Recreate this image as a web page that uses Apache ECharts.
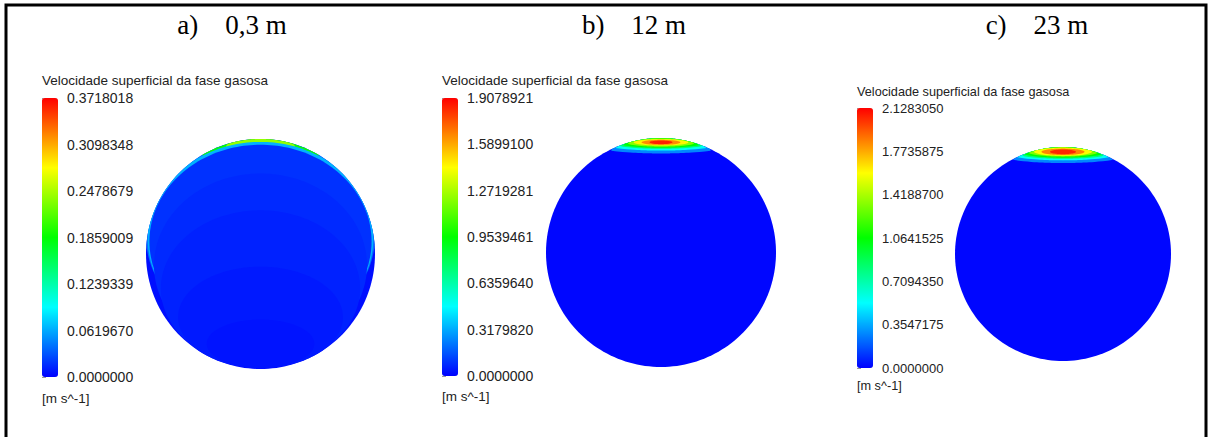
<!DOCTYPE html>
<html>
<head>
<meta charset="utf-8">
<script src="https://cdn.jsdelivr.net/npm/echarts@6/dist/echarts.min.js"></script>
<style>
html, body { margin: 0; padding: 0; background: #fff; }
#map { width: 1212px; height: 437px; }
</style>
</head>
<body>
<div id="map"></div>
<script>
// rotulos dos paineis e escala de cores (arco-iris do CFX)
var panelTitles = ['a)    0,3 m', 'b)    12 m', 'c)    23 m'];
var legendTitle = 'Velocidade superficial da fase gasosa';
var unitLabel = '[m s^-1]';
var rainbow = ['#0000ff', '#00ffff', '#00ff00', '#ffff00', '#ff0000'];

var maxValues = [0.3718018, 1.9078921, 2.1283050];
var ticksA = ['0.0000000', '0.0619670', '0.1239339', '0.1859009', '0.2478679', '0.3098348', '0.3718018'];
var ticksB = ['0.0000000', '0.3179820', '0.6359640', '0.9539461', '1.2719281', '1.5899100', '1.9078921'];
var ticksC = ['0.0000000', '0.3547175', '0.7094350', '1.0641525', '1.4188700', '1.7735875', '2.1283050'];

// camadas de contorno: [valor, cx, cy, rx, ry] (elipse recortada pelo circulo unitario)
var layersA = [
    [0.005, 0, 0, 1, 1],
    [0.040, 0, 0.15, 1.0, 0.85],
    [0.190, 0, 0.88, 0.52, 0.14],
    [0.240, 0, 0.93, 0.30, 0.10],
    [0.065, 0, 0.13, 0.985, 0.845],
    [0.018, 0, 0.11, 0.97, 0.84],
    [0.015, 0, -0.10, 0.93, 0.80],
    [0.012, 0, -0.30, 0.87, 0.68],
    [0.009, 0, -0.55, 0.72, 0.44],
    [0.007, 0, -0.78, 0.47, 0.21]
];
var layersB = [
    [0.012, 0, 0, 1, 1],
    [0.25, 0, 0.950, 0.62, 0.085],
    [0.50, 0, 0.955, 0.52, 0.065],
    [0.75, 0, 0.958, 0.44, 0.052],
    [0.95, 0, 0.960, 0.38, 0.045],
    [1.20, 0, 0.960, 0.30, 0.036],
    [1.45, 0, 0.962, 0.24, 0.028],
    [1.65, 0, 0.962, 0.17, 0.022],
    [1.85, 0, 0.962, 0.10, 0.016]
];
var layersC = [
    [0.012, 0, 0, 1, 1],
    [0.28, 0, 0.945, 0.64, 0.095],
    [0.55, 0, 0.950, 0.54, 0.075],
    [0.82, 0, 0.952, 0.46, 0.062],
    [1.06, 0, 0.955, 0.40, 0.055],
    [1.33, 0, 0.955, 0.33, 0.045],
    [1.60, 0, 0.955, 0.27, 0.037],
    [1.85, 0, 0.955, 0.20, 0.030],
    [2.05, 0, 0.955, 0.12, 0.022]
];

var layers = [layersA, layersB, layersC];
var tickLabels = [ticksA, ticksB, ticksC];

// posicoes na pagina
var circleBox = [
    {left: 146, top: 139, width: 229, height: 230},
    {left: 546, top: 138, width: 230, height: 229},
    {left: 955, top: 147, width: 216, height: 214}
];
var barBox = [
    {left: 42, top: 98, width: 16, height: 279},
    {left: 442, top: 98, width: 16, height: 278},
    {left: 857, top: 108, width: 16, height: 260}
];
var titleX = [232, 634, 1037];
var legendY = [80, 80, 92];
var unitY = [398, 396, 386];
var fontLabel = [14, 14, 13];
var fontLegend = [13.5, 13.5, 12.7];

function renderLayer(params, api) {
    var cx = api.value(1), cy = api.value(2), rx = api.value(3), ry = api.value(4);
    var pts = [];
    var n = 180;
    for (var k = 0; k < n; k++) {
        var t = k / n * Math.PI * 2;
        var ux = Math.cos(t), uy = Math.sin(t);
        var re = 1 / Math.sqrt(ux * ux / (rx * rx) + uy * uy / (ry * ry));
        var b = cx * ux + cy * uy, c = cx * cx + cy * cy - 1;
        var rc = -b + Math.sqrt(Math.max(b * b - c, 0));
        var r = Math.min(re, rc);
        pts.push(api.coord([cx + r * ux, cy + r * uy]));
    }
    return {
        type: 'polygon',
        shape: {points: pts},
        style: {fill: api.visual('color')}
    };
}

var myChart = echarts.init(document.getElementById('map'), null, {renderer: 'svg'});

var grid = [], xAxis = [], yAxis = [], series = [], visualMap = [], graphic = [];

graphic.push({
    type: 'rect',
    shape: {x: 6, y: 5, width: 1200, height: 440},
    style: {fill: 'none', stroke: '#000', lineWidth: 3},
    silent: true
});

for (var i = 0; i < 3; i++) {
    grid.push(circleBox[i]);
    xAxis.push({gridIndex: i, type: 'value', min: -1, max: 1, show: false});
    yAxis.push({gridIndex: i, type: 'value', min: -1, max: 1, show: false});
    series.push({
        type: 'custom',
        xAxisIndex: i,
        yAxisIndex: i,
        silent: true,
        animation: false,
        renderItem: renderLayer,
        data: layers[i]
    });
    visualMap.push({
        type: 'continuous',
        seriesIndex: i,
        dimension: 0,
        min: 0,
        max: maxValues[i],
        inRange: {color: rainbow},
        left: barBox[i].left,
        top: barBox[i].top,
        itemWidth: barBox[i].width,
        itemHeight: barBox[i].height,
        padding: 0,
        calculable: false,
        hoverLink: false,
        text: null
    });
}

for (var j = 0; j < 3; j++) {
    grid.push(barBox[j]);
    xAxis.push({gridIndex: 3 + j, type: 'value', show: false});
    (function (labels, size) {
        yAxis.push({
            gridIndex: 3 + j,
            type: 'value',
            position: 'right',
            min: 0,
            max: maxValues[j],
            interval: maxValues[j] / 6,
            axisLine: {show: false},
            splitLine: {show: false},
            axisTick: {show: true, length: 4, lineStyle: {color: '#999', width: 1}},
            axisLabel: {
                margin: 9,
                fontSize: size,
                color: '#222',
                fontFamily: 'Liberation Sans',
                formatter: function (v, idx) {
                    return labels[idx] !== undefined ? labels[idx] : '';
                }
            }
        });
    })(tickLabels[j], fontLabel[j]);

    graphic.push({
        type: 'text', x: titleX[j], y: 25, silent: true,
        style: {text: panelTitles[j], fill: '#000', font: '27px "Liberation Serif"', align: 'center', verticalAlign: 'middle'}
    });
    graphic.push({
        type: 'text', x: barBox[j].left, y: legendY[j], silent: true,
        style: {text: legendTitle, fill: '#222', font: fontLegend[j] + 'px "Liberation Sans"', align: 'left', verticalAlign: 'middle'}
    });
    graphic.push({
        type: 'text', x: barBox[j].left, y: unitY[j], silent: true,
        style: {text: unitLabel, fill: '#222', font: fontLegend[j] + 'px "Liberation Sans"', align: 'left', verticalAlign: 'middle'}
    });
}

var option = {
    backgroundColor: '#fff',
    animation: false,
    grid: grid,
    xAxis: xAxis,
    yAxis: yAxis,
    visualMap: visualMap,
    graphic: graphic,
    series: series
};
myChart.setOption(option, true);
window.addEventListener('resize', function () {
    myChart.resize();
});
</script>
</body>
</html>
